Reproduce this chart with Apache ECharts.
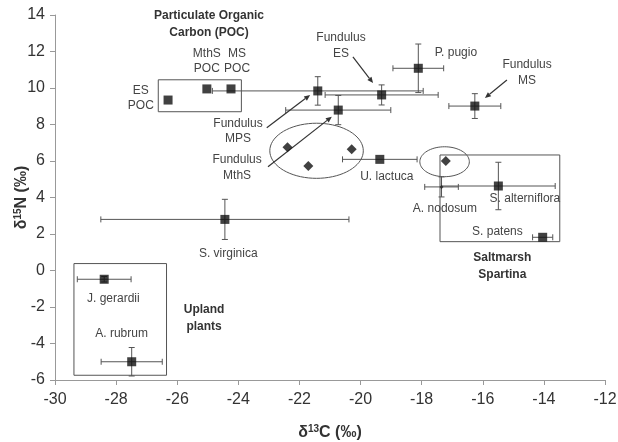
<!DOCTYPE html>
<html><head><meta charset="utf-8">
<script src="https://cdn.jsdelivr.net/npm/echarts@6/dist/echarts.min.js"></script>
<style>html,body{margin:0;padding:0;background:#fff}#c{width:618px;height:442px}</style>
</head><body><div id="c"></div>
<script>
// ---- data ----
const sqNames = ['ES POC','MthS POC','MS POC','Fundulus MPS','Fundulus ES','Fundulus MthS','P. pugio','Fundulus MS','U. lactuca','S. alterniflora','S. patens','S. virginica','J. gerardii','A. rubrum'];
const sqX    = [-26.30,-25.03,-24.24,-21.40,-19.31,-20.73,-18.11,-16.26,-19.37,-15.49,-14.04,-24.44,-28.39,-27.49];
const sqY    = [9.34, 9.95, 9.95, 9.84, 9.62, 8.79, 11.08, 9.01, 6.09, 4.63, 1.82, 2.80, -0.48, -5.00];
const sqXErr = [0, 0, 0, 3.45, 1.85, 1.72, 0.83, 0.85, 1.22, 1.86, 0.33, 4.06, 0.88, 1.00];
const sqYErr = [0, 0, 0, 0.78, 0.55, 0.80, 1.33, 0.68, 0, 1.30, 0, 1.10, 0.15, 0.78];

const nodName = ['A. nodosum'];
const nodX = [-17.35];
const nodY = [4.58];
const nodXErr = [0.55];
const nodYErr = [0.55];

const dmX = [-22.39, -21.71, -20.29, -17.21];
const dmY = [6.75, 5.73, 6.64, 6.00];

const xTicks = [-30,-28,-26,-24,-22,-20,-18,-16,-14,-12];
const yTicks = [-6,-4,-2,0,2,4,6,8,10,12,14];

// group boxes: [xmin, ymin, xmax, ymax]
const boxPOC = [-26.62, 8.70, -23.90, 10.45];
const boxSalt = [-17.40, 1.58, -13.48, 6.33];
const boxUp = [-29.38, -5.74, -26.35, 0.38];
// ellipses: [cx, cy, rx, ry]
const ellFish = [-21.44, 6.56, 1.53, 1.51];
const ellNod = [-17.25, 5.96, 0.81, 0.82];

// annotations (data coords)
const labTexts = ['MthS\nPOC','MS\nPOC','ES\nPOC','Fundulus\nES','P. pugio','Fundulus\nMS','Fundulus\nMPS','Fundulus\nMthS','U. lactuca','A. nodosum','S. alterniflora','S. patens','S. virginica','J. gerardii','A. rubrum'];
const labX = [-25.03,-24.04,-27.19,-20.64,-16.88,-14.55,-24.01,-24.04,-19.14,-17.24,-14.62,-15.52,-24.33,-28.09,-27.82];
const labY = [11.48,11.48,9.45,12.33,11.92,10.85,7.62,5.64,5.14,3.41,3.92,2.13,0.94,-1.52,-3.44];
const boldTexts = ['Particulate Organic\nCarbon (POC)','Saltmarsh\nSpartina','Upland\nplants'];
const boldX = [-24.96, -15.36, -25.12];
const boldY = [13.48, 0.21, -2.62];
// arrows: [x1,y1,x2,y2]
const arrows = [[-20.25,11.70,-19.59,10.27],[-15.21,10.44,-15.93,9.45],[-23.07,7.82,-21.65,9.62],[-23.03,5.69,-20.94,8.43]];

// ---- chart ----
const FONT = '"Liberation Sans", Arial, sans-serif';
const LINE = '#555';
const chart = echarts.init(document.getElementById('c'));

function errItem(params, api){
  const x=api.value(0), y=api.value(1), ex=api.value(2), ey=api.value(3);
  const st={stroke:LINE,lineWidth:1};
  const ch=[]; const cap=3;
  if(ex>0){
    const l=api.coord([x-ex,y]), r=api.coord([x+ex,y]);
    ch.push({type:'line',shape:{x1:l[0],y1:l[1],x2:r[0],y2:r[1]},style:st});
    ch.push({type:'line',shape:{x1:l[0],y1:l[1]-cap,x2:l[0],y2:l[1]+cap},style:st});
    ch.push({type:'line',shape:{x1:r[0],y1:r[1]-cap,x2:r[0],y2:r[1]+cap},style:st});
  }
  if(ey>0){
    const t=api.coord([x,y+ey]), b=api.coord([x,y-ey]);
    ch.push({type:'line',shape:{x1:t[0],y1:t[1],x2:b[0],y2:b[1]},style:st});
    ch.push({type:'line',shape:{x1:t[0]-cap,y1:t[1],x2:t[0]+cap,y2:t[1]},style:st});
    ch.push({type:'line',shape:{x1:b[0]-cap,y1:b[1],x2:b[0]+cap,y2:b[1]},style:st});
  }
  return {type:'group',children:ch};
}
function boxItem(params, api){
  const a=api.coord([api.value(0),api.value(1)]), b=api.coord([api.value(2),api.value(3)]);
  return {type:'rect',shape:{x:Math.min(a[0],b[0]),y:Math.min(a[1],b[1]),width:Math.abs(b[0]-a[0]),height:Math.abs(b[1]-a[1])},style:{fill:'none',stroke:LINE,lineWidth:1}};
}
function ellItem(params, api){
  const cx=api.value(0), cy=api.value(1), rx=api.value(2), ry=api.value(3);
  const pts=[];
  for(let k=0;k<72;k++){const t=k/72*2*Math.PI; pts.push(api.coord([cx+rx*Math.cos(t), cy+ry*Math.sin(t)]));}
  return {type:'polygon',shape:{points:pts},style:{fill:'none',stroke:LINE,lineWidth:1}};
}
function arrowItem(params, api){
  const p=api.coord([api.value(0),api.value(1)]), q=api.coord([api.value(2),api.value(3)]);
  const dx=q[0]-p[0], dy=q[1]-p[1], L=Math.sqrt(dx*dx+dy*dy), ux=dx/L, uy=dy/L;
  const h=6, w=2.6;
  const bx=q[0]-ux*h, by=q[1]-uy*h;
  return {type:'group',children:[
    {type:'line',shape:{x1:p[0],y1:p[1],x2:bx,y2:by},style:{stroke:'#333',lineWidth:1.2}},
    {type:'polygon',shape:{points:[[q[0],q[1]],[bx-uy*w,by+ux*w],[bx+uy*w,by-ux*w]]},style:{fill:'#333'}}
  ]};
}
function textMaker(texts, bold){
  return function(params, api){
    const c=api.coord([api.value(0),api.value(1)]);
    return {type:'text',x:c[0],y:c[1],style:{text:texts[params.dataIndex],align:'center',verticalAlign:'middle',
      fontFamily:FONT,fontSize:12,fontWeight:bold?'bold':'normal',fill:bold?'#333':'#444',lineHeight:bold?17:15.5}};
  };
}

const option = {
  animation:false,
  backgroundColor:'#fff',
  grid:{left:55,right:13,top:15,bottom:62,containLabel:false,outerBoundsMode:'none'},
  xAxis:{type:'value',min:-30,max:-12,interval:2,
    axisLine:{show:true,onZero:false,lineStyle:{color:'#999',width:1}},
    axisTick:{show:true,length:5,lineStyle:{color:'#999'}},
    splitLine:{show:false},
    axisLabel:{color:'#333',fontSize:16,fontFamily:FONT,margin:12,customValues:xTicks},
    name:'{a|δ}{s|13}{a|C (‰)}',nameLocation:'middle',nameGap:44,nameMoveOverlap:false,
    nameTextStyle:{rich:{a:{fontSize:16,fontWeight:'bold',fontFamily:FONT,color:'#333',lineHeight:18},s:{fontSize:10,fontWeight:'bold',fontFamily:FONT,color:'#333',verticalAlign:'top',lineHeight:10}}}
  },
  yAxis:{type:'value',min:-6,max:14,interval:2,
    axisLine:{show:true,onZero:false,lineStyle:{color:'#999',width:1}},
    axisTick:{show:true,length:5,lineStyle:{color:'#999'}},
    splitLine:{show:false},
    axisLabel:{color:'#333',fontSize:16,fontFamily:FONT,margin:10,customValues:yTicks},
    name:'{a|δ}{s|15}{a|N (‰)}',nameLocation:'middle',nameGap:24,nameRotate:90,nameMoveOverlap:false,
    nameTextStyle:{rich:{a:{fontSize:16,fontWeight:'bold',fontFamily:FONT,color:'#333',lineHeight:18},s:{fontSize:10,fontWeight:'bold',fontFamily:FONT,color:'#333',verticalAlign:'top',lineHeight:10}}}
  },
  series:[
    {type:'custom',name:'boxes',renderItem:boxItem,encode:{x:[0,2],y:[1,3]},data:[boxPOC,boxSalt,boxUp],silent:true,z:1},
    {type:'custom',name:'ellipses',renderItem:ellItem,encode:{x:0,y:1},data:[ellFish,ellNod],silent:true,z:1},
    {type:'custom',name:'errors',renderItem:errItem,encode:{x:0,y:1},
      data:sqX.map((x,i)=>[x,sqY[i],sqXErr[i],sqYErr[i]]).concat(nodX.map((x,i)=>[x,nodY[i],nodXErr[i],nodYErr[i]])),silent:true,z:2},
    {type:'custom',name:'arrows',renderItem:arrowItem,encode:{x:[0,2],y:[1,3]},data:arrows,silent:true,z:3},
    {type:'scatter',name:'squares',symbol:'rect',symbolSize:9,itemStyle:{color:'#111'},data:sqX.map((x,i)=>[x,sqY[i]]),z:4},
    {type:'scatter',name:'A. nodosum',symbol:'diamond',symbolSize:4,itemStyle:{color:'#222'},data:nodX.map((x,i)=>[x,nodY[i]]),z:4},
    {type:'scatter',name:'diamonds',symbol:'diamond',symbolSize:10,itemStyle:{color:'#111'},data:dmX.map((x,i)=>[x,dmY[i]]),z:4},
    {type:'custom',name:'labels',renderItem:textMaker(labTexts,false),encode:{x:0,y:1},data:labX.map((x,i)=>[x,labY[i]]),silent:true,z:5},
    {type:'custom',name:'groupLabels',renderItem:textMaker(boldTexts,true),encode:{x:0,y:1},data:boldX.map((x,i)=>[x,boldY[i]]),silent:true,z:5}
  ]
};
chart.setOption(option);
</script></body></html>
